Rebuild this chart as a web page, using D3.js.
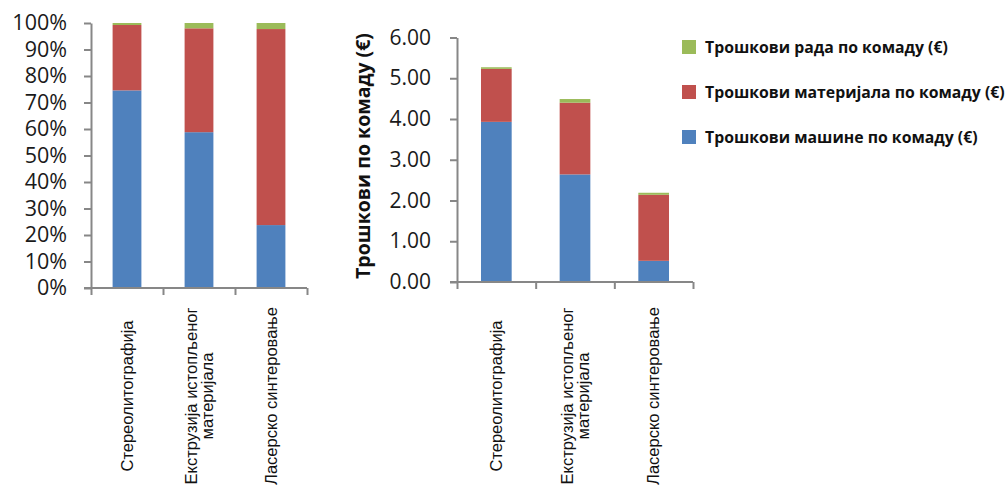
<!DOCTYPE html>
<html>
<head>
<meta charset="utf-8">
<script src="https://cdn.jsdelivr.net/npm/d3@7"></script>
<style>
  html, body { margin: 0; padding: 0; background: #fff; }
  svg { display: block; }
</style>
</head>
<body>
<svg id="chart" width="1006" height="491"></svg>
<script>
// ---- data ----
const categories = [
  ["Стереолитографија"],
  ["Екструзија истопљеног", "материјала"],
  ["Ласерско синтеровање"]
];
const seriesNames = [
  "Трошкови машине по комаду (€)",
  "Трошкови материјала по комаду (€)",
  "Трошкови рада по комаду (€)"
];
const machineCost  = [3.93, 2.64, 0.52];
const materialCost = [1.30, 1.76, 1.62];
const laborCost    = [0.04, 0.09, 0.05];
const seriesColors = ["#4F81BD", "#C0504D", "#9BBB59"];
const pctTicks = [0, 0.1, 0.2, 0.3, 0.4, 0.5, 0.6, 0.7, 0.8, 0.9, 1.0];
const costTicks = [0, 1, 2, 3, 4, 5, 6];
const yTitle = "Трошкови по комаду (€)";
const legendOrder = [2, 1, 0];

// ---- build table ----
const idx = categories.map((c, i) => i);
const rows = idx.map(i => ({ i, s0: machineCost[i], s1: materialCost[i], s2: laborCost[i] }));
const keys = ["s0", "s1", "s2"];
const stackAbs = d3.stack().keys(keys)(rows);
const stackPct = d3.stack().keys(keys).offset(d3.stackOffsetExpand)(rows);

const svg = d3.select("#chart");
const axisColor = "#878787";
const tickFont = "'Open Sans', sans-serif";

function drawChart(g, opts) {
  const { x0, x1, yScale, ticks, fmt, stack, barFrac, tickFontSize, tickPad } = opts;
  const slot = d3.scaleBand().domain(idx).range([x0, x1]).paddingInner(0).paddingOuter(0);
  const bw = slot.bandwidth() * barFrac;

  // bars
  stack.forEach((layer, k) => {
    g.append("g").selectAll("rect").data(layer).join("rect")
      .attr("x", d => slot(d.data.i) + (slot.bandwidth() - bw) / 2)
      .attr("width", bw)
      .attr("y", d => yScale(d[1]))
      .attr("height", d => yScale(d[0]) - yScale(d[1]))
      .attr("fill", seriesColors[k]);
  });

  // y axis
  const yAxis = g.append("g").attr("transform", `translate(${x0},0)`)
    .call(d3.axisLeft(yScale).tickValues(ticks).tickFormat(fmt).tickSize(7).tickSizeOuter(0).tickPadding(tickPad));
  yAxis.select(".domain").attr("stroke", axisColor).attr("stroke-width", 2);
  yAxis.selectAll(".tick line").attr("stroke", axisColor).attr("stroke-width", 2);
  yAxis.selectAll(".tick text").attr("font-family", tickFont).attr("font-size", tickFontSize).attr("fill", "#1a1a1a");

  // x axis with boundary ticks
  const bound = d3.scaleLinear().domain([0, idx.length]).range([x0, x1]);
  const xAxis = g.append("g").attr("transform", `translate(0,${yScale.range()[0]})`)
    .call(d3.axisBottom(bound).tickValues(d3.range(idx.length + 1)).tickFormat("").tickSize(7).tickSizeOuter(0));
  xAxis.select(".domain").attr("stroke", axisColor).attr("stroke-width", 2)
    .attr("d", `M${x0 - 7},0H${x1}`);
  xAxis.selectAll(".tick line").attr("stroke", axisColor).attr("stroke-width", 2);

  // category labels
  categories.forEach((lines, i) => {
    const cx = slot(i) + slot.bandwidth() / 2;
    const n = lines.length;
    const t = g.append("text")
      .attr("transform", `translate(${cx},396) rotate(-90)`)
      .attr("text-anchor", "middle")
      .attr("font-family", "'Liberation Sans', Arial, sans-serif")
      .attr("font-size", 16.5)
      .attr("fill", "#111");
    lines.forEach((ln, j) => {
      t.append("tspan").attr("x", 0)
        .attr("dy", j === 0 ? ((0.35 - (n - 1) * 0.5)) + "em" : "1em")
        .text(ln);
    });
  });
}

// left chart (100% stacked)
const yPct = d3.scaleLinear().domain([0, 1]).range([288, 23]);
drawChart(svg.append("g"), {
  x0: 91, x1: 307, yScale: yPct, ticks: pctTicks, fmt: d3.format(".0%"),
  stack: stackPct, barFrac: 0.4, tickFontSize: 21.5, tickPad: 17
});

// right chart (absolute)
const yCost = d3.scaleLinear().domain([0, 6]).range([282, 37.5]);
drawChart(svg.append("g"), {
  x0: 457, x1: 693, yScale: yCost, ticks: costTicks, fmt: d3.format(".2f"),
  stack: stackAbs, barFrac: 0.39, tickFontSize: 21, tickPad: 19
});

// y title
svg.append("text")
  .attr("transform", `translate(363,156) rotate(-90)`)
  .attr("text-anchor", "middle")
  .attr("dy", "0.35em")
  .attr("font-family", tickFont)
  .attr("font-weight", "bold")
  .attr("font-size", 19.5)
  .attr("fill", "#111")
  .text(yTitle);

// legend
const legend = svg.append("g").attr("transform", "translate(682,47)");
legendOrder.forEach((k, r) => {
  const row = legend.append("g").attr("transform", `translate(0,${r * 45})`);
  row.append("rect").attr("x", 0).attr("y", -7).attr("width", 14).attr("height", 14).attr("fill", seriesColors[k]);
  row.append("text").attr("x", 23).attr("dy", "0.35em")
    .attr("font-family", tickFont).attr("font-weight", "bold").attr("font-size", 15.8)
    .attr("fill", "#111").text(seriesNames[k]);
});
</script>
</body>
</html>
